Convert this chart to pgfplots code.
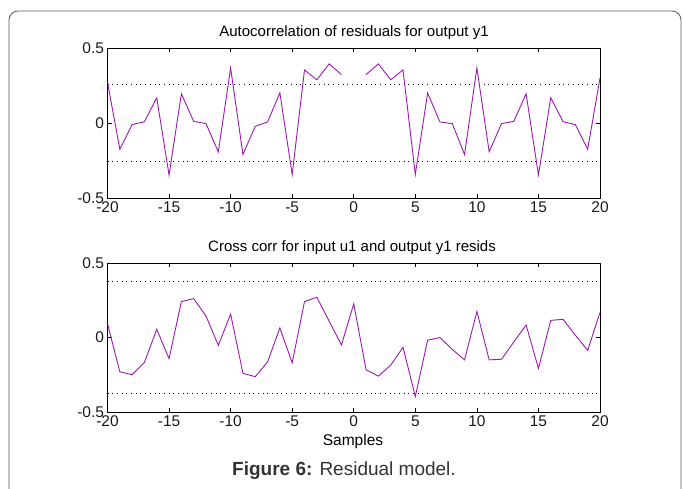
\documentclass[border=0pt]{standalone}
\usepackage{fontspec}
\setmainfont{Liberation Sans}
\usepackage{pgfplots}
\pgfplotsset{compat=1.18}
\definecolor{resline}{RGB}{155,25,175}
\definecolor{captxt}{RGB}{51,51,51}
\definecolor{framegray}{RGB}{90,90,90}

\pgfplotsset{
  residax/.style={
    scale only axis, width=492.5pt,
    xmin=-20, xmax=20, ymin=-0.5, ymax=0.5,
    xtick={-20,-15,...,20},
    xticklabels={-20,-15,-10,-5,0,5,10,15,20},
    ytick={-0.5,0,0.5},
    yticklabels={-0.5,0,0.5},
    tick align=inside, major tick length=4pt,
    axis line style={black, line width=0.7pt},
    every tick/.style={black, line width=0.7pt},
    tick label style={font=\fontsize{15.5}{16}\selectfont, text=black!90},
    xticklabel style={yshift=0pt},
    yticklabel style={xshift=0pt},
    unbounded coords=jump,
  },
  dotline/.style={black, line width=0.6pt, dash pattern=on 0.7pt off 4pt, forget plot},
  resid/.style={resline, line width=0.9pt, mark=none},
}

\begin{document}
\begin{tikzpicture}[x=1pt, y=1pt]
\path[use as bounding box] (0pt,0pt) rectangle (683pt,488pt);
\draw[framegray, line width=0.8pt, rounded corners=9pt] (9pt,-12pt) -- (9pt,477pt) -- (681pt,477pt) -- (681pt,-12pt);

% top: autocorrelation
\begin{axis}[residax, at={(107.5pt,290pt)}, anchor=south west, height=150pt]
  \addplot[dotline] coordinates {(-20,0.255) (20,0.255)};
  \addplot[dotline] coordinates {(-20,-0.255) (20,-0.255)};
  \addplot[resid] coordinates {
    (-20,0.272) (-19,-0.175) (-18,-0.011) (-17,0.009) (-16,0.168)
    (-15,-0.347) (-14,0.195) (-13,0.011) (-12,-0.004) (-11,-0.192)
    (-10,0.367) (-9,-0.21) (-8,-0.022) (-7,0.007) (-6,0.201)
    (-5,-0.343) (-4,0.354) (-3,0.288) (-2,0.394) (-1,0.323)
    (0,nan)
    (1,0.323) (2,0.394) (3,0.288) (4,0.354) (5,-0.343)
    (6,0.2) (7,0.007) (8,-0.004) (9,-0.21) (10,0.367)
    (11,-0.192) (12,-0.004) (13,0.011) (14,0.195) (15,-0.347)
    (16,0.168) (17,0.009) (18,-0.011) (19,-0.175) (20,0.30)
  };
\end{axis}
\node[font=\fontsize{15}{16}\selectfont] at (354pt,455pt) {Autocorrelation of residuals for output y1};

% bottom: cross correlation
\begin{axis}[residax, at={(107.5pt,76pt)}, anchor=south west, height=149pt]
  \addplot[dotline] coordinates {(-20,0.377) (20,0.377)};
  \addplot[dotline] coordinates {(-20,-0.377) (20,-0.377)};
  \addplot[resid] coordinates {
    (-20,0.093) (-19,-0.23) (-18,-0.25) (-17,-0.166) (-16,0.055)
    (-15,-0.142) (-14,0.241) (-13,0.261) (-12,0.144) (-11,-0.053)
    (-10,0.157) (-9,-0.24) (-8,-0.263) (-7,-0.164) (-6,0.064)
    (-5,-0.17) (-4,0.241) (-3,0.27) (-2,0.11) (-1,-0.05)
    (0,0.226) (1,-0.217) (2,-0.259) (3,-0.186) (4,-0.066)
    (5,-0.396) (6,-0.018) (7,0.0) (8,-0.08) (9,-0.15)
    (10,0.175) (11,-0.15) (12,-0.146) (13,-0.03) (14,0.084)
    (15,-0.208) (16,0.115) (17,0.122) (18,0.015) (19,-0.086)
    (20,0.168)
  };
\end{axis}
\node[font=\fontsize{15}{16}\selectfont] at (352pt,240pt) {Cross corr for input u1 and output y1 resids};
\node[font=\fontsize{15.5}{16}\selectfont] at (353pt,47pt) {Samples};
\node[font=\fontsize{19}{20}\selectfont, text=captxt] at (344pt,17pt) {\textbf{Figure 6:} Residual model.};
\end{tikzpicture}
\end{document}
